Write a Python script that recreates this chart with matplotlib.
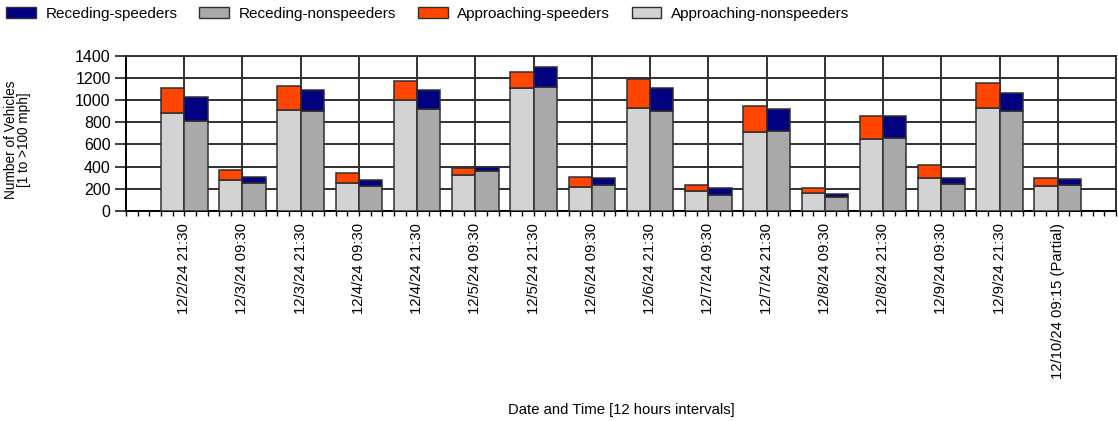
import matplotlib
matplotlib.use("Agg")
import matplotlib.pyplot as plt
from matplotlib.patches import Patch
from matplotlib.ticker import MultipleLocator
import numpy as np

plt.rcParams['font.family'] = ['Liberation Sans', 'DejaVu Sans']

etiquetas = ["12/2/24 21:30", "12/3/24 09:30", "12/3/24 21:30", "12/4/24 09:30",
             "12/4/24 21:30", "12/5/24 09:30", "12/5/24 21:30", "12/6/24 09:30",
             "12/6/24 21:30", "12/7/24 09:30", "12/7/24 21:30", "12/8/24 09:30",
             "12/8/24 21:30", "12/9/24 09:30", "12/9/24 21:30", "12/10/24 09:15 (Partial)"]

# vehiculos acercandose
acerca_normal = [885, 276, 909, 251, 1000, 321, 1110, 218, 928, 181, 711, 166, 647, 296, 928, 221]
acerca_rapido = [221, 91, 221, 88, 170, 69, 145, 88, 262, 52, 232, 40, 206, 118, 224, 78]
# vehiculos alejandose
aleja_normal = [815, 251, 897, 224, 924, 358, 1120, 230, 904, 142, 723, 127, 656, 242, 904, 233]
aleja_rapido = [212, 55, 197, 55, 170, 38, 174, 68, 209, 61, 196, 27, 197, 57, 160, 54]

c_navy = "#000080"
c_gris = "#A9A9A9"
c_naranja = "#FF4500"
c_claro = "#D3D3D3"
borde = "#303030"

fig = plt.figure(figsize=(11.18, 4.21), dpi=100)
ax = fig.add_axes([126/1118, 1-211/421, (1116-126)/1118, (211-55.7)/421])

x = np.arange(len(etiquetas))
w = 0.4
ax.bar(x - w/2, acerca_normal, w, color=c_claro, edgecolor=borde, linewidth=1.1, zorder=3)
ax.bar(x - w/2, acerca_rapido, w, bottom=acerca_normal, color=c_naranja, edgecolor=borde, linewidth=1.1, zorder=3)
ax.bar(x + w/2, aleja_normal, w, color=c_gris, edgecolor=borde, linewidth=1.1, zorder=3)
ax.bar(x + w/2, aleja_rapido, w, bottom=aleja_normal, color=c_navy, edgecolor=borde, linewidth=1.1, zorder=3)

ax.set_xlim(-1, 16)
ax.set_ylim(0, 1400)
ax.set_yticks(range(0, 1401, 200))
ax.set_xticks(x)
ax.set_xticklabels(etiquetas, rotation=90, fontsize=10.7)
ax.xaxis.set_minor_locator(MultipleLocator(0.2))
ax.tick_params(axis='x', which='both', length=3.5, width=1, pad=5, color='black')
ax.tick_params(axis='y', length=8, width=1.3, pad=3, labelsize=11.5, color='#303030')
ax.grid(True, color='#303030', linewidth=1.4, zorder=1)
for s in ax.spines.values():
    s.set_color('#303030')
    s.set_linewidth(1.4)
ax.spines['left'].set_color('black')
ax.spines['bottom'].set_color('black')

ax.set_ylabel("Number of Vehicles\n[1 to >100 mph]", fontsize=9.8, linespacing=0.95)
ax.yaxis.set_label_coords(-0.096, 0.46)
fig.text(621/1118, 1-410/421, "Date and Time [12 hours intervals]", ha='center', va='center', fontsize=10.7)

handles = [Patch(facecolor=c_navy, edgecolor=borde, label="Receding-speeders"),
           Patch(facecolor=c_gris, edgecolor=borde, label="Receding-nonspeeders"),
           Patch(facecolor=c_naranja, edgecolor=borde, label="Approaching-speeders"),
           Patch(facecolor=c_claro, edgecolor=borde, label="Approaching-nonspeeders")]
fig.legend(handles=handles, loc='upper left', bbox_to_anchor=(0, 0.998), ncol=4, frameon=False,
           fontsize=11, handlelength=1.95, handleheight=0.65, handletextpad=0.65,
           columnspacing=1.4, borderaxespad=0.2, borderpad=0.2)

fig.savefig("out.png", dpi=100)
